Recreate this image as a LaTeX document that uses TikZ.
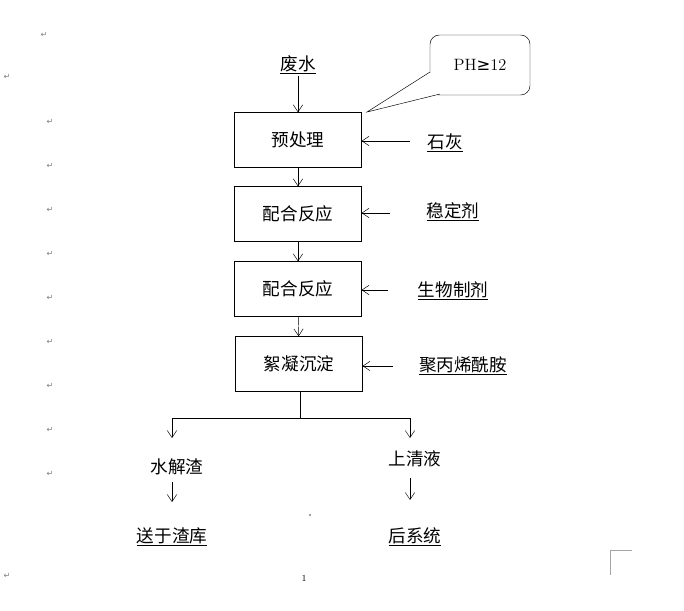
\documentclass[tikz,border=0pt]{standalone}
\usepackage{fontspec}
\newfontfamily\cjk{Noto Sans CJK SC}
\newfontfamily\symb{DejaVu Sans}
\usetikzlibrary{arrows.meta}
\tikzset{
  stepbox/.style={draw, thin, minimum width=3.8cm, minimum height=1.65cm, font=\cjk\fontsize{15}{17}\selectfont},
  lbl/.style={font=\cjk\fontsize{15}{17}\selectfont, inner sep=1pt},
  arr/.style={-{Straight Barb[length=6pt,width=8pt]}, thin},
  parmark/.style={font=\symb\fontsize{7}{8}\selectfont, text=gray}
}
\begin{document}
\begin{tikzpicture}[x=0.03cm, y=-0.03cm]
    \useasboundingbox (0,0) rectangle (684,610);

    % margin marks
    \foreach \y in {122,166,210,254,298,342,386,430,474}
      \node[parmark] at (50,\y) {↵};
    \node[parmark] at (44,35) {↵};
    \node[parmark] at (7,77) {↵};
    \node[parmark] at (7,576) {↵};
    \draw[gray!70] (610,550) -- (632,550);
    \draw[gray!70] (610,550) -- (610,575);
    \node[font=\fontsize{8}{9}\selectfont] (page) at (304,578) {1};
    \fill[gray] (310,515) circle (1.2);

    % main chain
    \node[lbl] (water) at (298,65) {\underline{废水}};
    \node[stepbox] (pre) at (298,140) {预处理};
    \node[stepbox] (mix1) at (298,214) {配合反应};
    \node[stepbox] (mix2) at (298,289) {配合反应};
    \node[stepbox] (floc) at (299,364) {絮凝沉淀};

    \draw[arr] (water) -- (pre);
    \draw[arr] (pre) -- (mix1);
    \draw[arr] (mix1) -- (mix2);
    \draw[arr] (mix2) -- (floc);

    % additives
    \node[lbl] (lime) at (445,143) {\underline{石灰}};
    \node[lbl] (stab) at (453,212) {\underline{稳定剂}};
    \node[lbl] (bio) at (453,291) {\underline{生物制剂}};
    \node[lbl] (pam) at (463,366) {\underline{聚丙烯酰胺}};
    \draw[arr] (410,141) -- (pre.east |- 0,141);
    \draw[arr] (390,213) -- (mix1.east |- 0,213);
    \draw[arr] (388,290) -- (mix2.east |- 0,290);
    \draw[arr] (393,366) -- (floc.east |- 0,366);

    % callout
    \node[draw, rounded corners=8pt, minimum width=3cm, minimum height=1.8cm,
      font=\fontsize{14}{16}\selectfont] (ph) at (480,65) {PH{\symb ≥}12};
    \filldraw[fill=white] (430,72) -- (367,112) -- (440,94);

    % split
    \node[lbl] (slag) at (177,467) {水解渣};
    \node[lbl] (clear) at (415,459) {上清液};
    \node[lbl] (store) at (172,537) {\underline{送于渣库}};
    \node[lbl] (rest) at (415,537) {\underline{后系统}};
    \coordinate (split) at (300,418);
    \draw (floc.south -| split) -- (split);
    \draw (172,418) -- (410,418);
    \draw[arr] (172,418) -- (172,438);
    \draw[arr] (410,418) -- (410,438);
    \draw[arr] (172,482) -- (172,502);
    \draw[arr] (410,478) -- (410,500);
\end{tikzpicture}
\end{document}
